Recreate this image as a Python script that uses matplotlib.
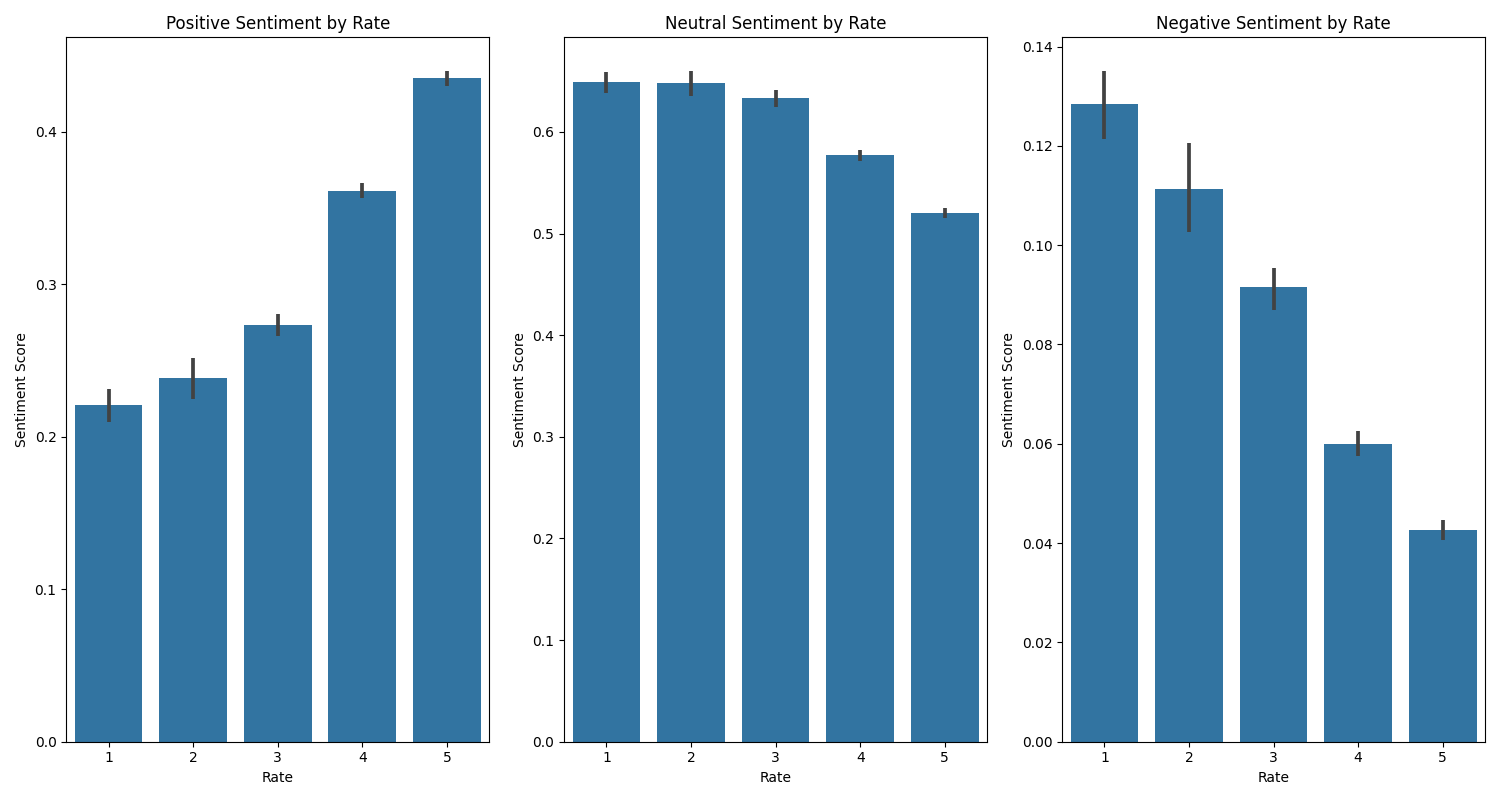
import matplotlib

matplotlib.use("Agg")
import matplotlib.pyplot as plt
import numpy as np

RATES = ["1", "2", "3", "4", "5"]

# mean sentiment per rate, with lower / upper ends of the 95% CI
POSITIVE = [0.221, 0.2387, 0.2734, 0.3613, 0.4354]
POSITIVE_LO = [0.210, 0.2245, 0.2658, 0.3563, 0.4303]
POSITIVE_HI = [0.2315, 0.252, 0.2807, 0.3666, 0.440]

NEUTRAL = [0.649, 0.648, 0.6333, 0.5772, 0.5202]
NEUTRAL_LO = [0.6385, 0.6355, 0.6247, 0.5716, 0.5155]
NEUTRAL_HI = [0.659, 0.660, 0.641, 0.582, 0.525]

NEGATIVE = [0.1285, 0.1114, 0.0915, 0.0600, 0.0427]
NEGATIVE_LO = [0.1214, 0.1026, 0.0869, 0.0575, 0.0407]
NEGATIVE_HI = [0.1351, 0.1205, 0.0955, 0.0626, 0.0447]

PANELS = [
    ("Positive Sentiment by Rate", POSITIVE, POSITIVE_LO, POSITIVE_HI),
    ("Neutral Sentiment by Rate", NEUTRAL, NEUTRAL_LO, NEUTRAL_HI),
    ("Negative Sentiment by Rate", NEGATIVE, NEGATIVE_LO, NEGATIVE_HI),
]

BAR_COLOR = "#3274a1"
ERR_COLOR = "#424242"

fig, axes = plt.subplots(1, 3, figsize=(15, 8), dpi=100)
x = np.arange(len(RATES))
for ax, (title, vals, lo, hi) in zip(axes, PANELS):
    ax.bar(x, vals, width=0.8, color=BAR_COLOR)
    ax.vlines(x, lo, hi, color=ERR_COLOR, linewidth=2.7)
    ax.set_xticks(x)
    ax.set_xticklabels(RATES)
    ax.set_xlim(-0.5, len(RATES) - 0.5)
    ax.set_title(title)
    ax.set_xlabel("Rate")
    ax.set_ylabel("Sentiment Score")

plt.tight_layout()
plt.savefig("out.png", dpi=100)
plt.close()
